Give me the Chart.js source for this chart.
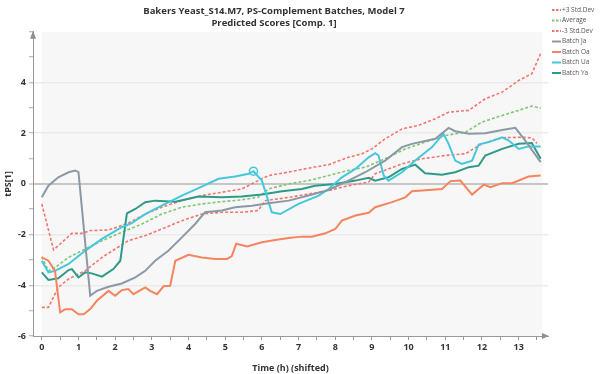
<!DOCTYPE html>
<html><head><meta charset="utf-8">
<script src="https://cdn.jsdelivr.net/npm/chart.js@4/dist/chart.umd.min.js"></script>
<style>html,body{margin:0;padding:0;background:#fff}#wrap{width:602px;height:374px;position:relative}</style>
</head><body><div id="wrap"><canvas id="c" width="602" height="374"></canvas></div>
<script>
const titleLines = ['Bakers Yeast_S14.M7, PS-Complement Batches, Model 7', 'Predicted Scores [Comp. 1]'];
const xTitle = 'Time (h) (shifted)';
const yTitle = 'tPS[1]';
const seriesNames = ['+3 Std.Dev', 'Average', '-3 Std.Dev', 'Batch Ja', 'Batch Oa', 'Batch Ua', 'Batch Ya'];

const upperT = [0,0.32,0.5,0.82,1.09,1.32,1.82,2.36,2.82,3.27,3.82,4.36,4.91,5.45,5.9,6.18,6.7,7.27,7.82,8.36,8.73,9.0,9.36,9.82,10.27,10.73,11.09,11.64,12.09,12.55,13.0,13.36,13.6];
const upperV = [-0.79,-2.6,-2.37,-1.95,-1.95,-1.84,-1.82,-1.55,-1.19,-0.92,-0.66,-0.46,-0.33,-0.2,0.13,0.33,0.46,0.62,0.76,1.05,1.19,1.38,1.78,2.17,2.31,2.57,2.83,2.9,3.36,3.62,4.08,4.35,5.14];

const avgT = [0,0.18,0.36,0.73,1.18,1.64,2.18,2.73,3.27,3.82,4.36,4.91,5.45,5.9,6.18,6.73,7.27,7.82,8.36,8.82,9.36,9.91,10.45,11.0,11.55,12.0,12.55,13.0,13.36,13.6];
const avgV = [-2.87,-3.43,-3.3,-2.9,-2.57,-2.24,-1.91,-1.58,-1.19,-0.92,-0.79,-0.7,-0.63,-0.53,-0.2,0,0.13,0.33,0.53,0.66,0.99,1.38,1.65,1.91,2.04,2.44,2.7,2.9,3.07,2.99];

const lowerT = [0,0.18,0.45,0.73,1.18,1.64,2.0,2.36,2.82,3.27,3.82,4.36,4.91,5.45,5.9,6.09,6.73,7.27,7.82,8.36,8.91,9.09,9.82,10.36,11.0,11.55,12.0,12.55,13.0,13.36,13.5];
const lowerV = [-4.87,-4.87,-4.08,-3.75,-3.43,-2.9,-2.57,-2.24,-2.04,-1.78,-1.45,-1.19,-1.12,-1.12,-1.05,-0.66,-0.53,-0.4,-0.26,-0.07,0.07,0.4,0.79,0.99,1.12,1.19,1.58,1.82,1.84,1.82,1.6];

const jaT = [0,0.18,0.45,0.73,0.91,1.0,1.32,1.5,1.82,2.18,2.55,2.82,3.09,3.45,3.82,4.18,4.45,4.91,5.27,5.73,6.18,6.73,7.27,7.82,8.36,8.82,9.36,9.82,10.09,10.73,11.09,11.27,11.64,12.09,12.55,12.91,13.18,13.6];
const jaV = [-0.53,-0.07,0.26,0.46,0.53,0.46,-4.41,-4.22,-4.06,-3.93,-3.69,-3.43,-3.03,-2.64,-2.11,-1.58,-1.12,-1.05,-0.92,-0.86,-0.76,-0.66,-0.46,-0.24,0.13,0.46,0.92,1.45,1.58,1.78,2.21,2.08,1.98,2.0,2.13,2.21,1.71,0.86];

const oaT = [0,0.18,0.36,0.5,0.64,0.82,1.0,1.14,1.32,1.5,1.82,2.0,2.18,2.36,2.5,2.82,2.95,3.14,3.32,3.5,3.64,4.0,4.36,4.73,5.05,5.18,5.3,5.6,6.0,6.36,6.73,7.09,7.36,7.73,8.0,8.18,8.55,8.91,9.09,9.55,9.91,10.09,10.55,10.91,11.14,11.41,11.73,12.05,12.23,12.55,12.82,13.27,13.6];
const oaV = [-2.9,-3.03,-3.43,-5.07,-4.94,-4.94,-5.14,-5.14,-4.94,-4.61,-4.22,-4.41,-4.19,-4.15,-4.35,-4.08,-4.22,-4.35,-4.04,-4.02,-3.03,-2.8,-2.9,-2.96,-2.96,-2.85,-2.36,-2.47,-2.3,-2.21,-2.13,-2.08,-2.08,-1.95,-1.78,-1.45,-1.25,-1.14,-0.92,-0.72,-0.53,-0.29,-0.24,-0.2,0.11,0.13,-0.42,-0.03,-0.13,0.03,0.03,0.29,0.33];

const uaT = [0,0.18,0.36,0.73,1.18,1.64,2.18,2.45,2.82,3.27,3.82,4.36,4.82,5.27,5.64,5.77,6.0,6.27,6.5,7.0,7.55,7.82,8.18,8.55,8.91,9.09,9.18,9.32,9.45,9.82,10.18,10.64,10.95,11.09,11.27,11.45,11.73,11.91,12.18,12.55,12.73,13.0,13.27,13.6];
const uaV = [-3.03,-3.49,-3.43,-3.16,-2.64,-2.17,-1.71,-1.55,-1.19,-0.86,-0.46,-0.11,0.2,0.29,0.4,0.5,0.13,-1.12,-1.19,-0.79,-0.46,-0.2,0.26,0.59,1.05,1.21,1.12,0.33,0.13,0.46,0.92,1.45,1.98,1.58,0.92,0.79,0.92,1.55,1.65,1.84,1.71,1.38,1.48,1.48];

const yaT = [0,0.18,0.45,0.73,0.82,1.0,1.18,1.36,1.64,1.95,2.14,2.32,2.55,2.82,3.09,3.64,4.27,4.91,5.45,6.0,6.55,7.09,7.45,8.0,8.55,8.91,9.09,9.45,9.82,10.18,10.45,10.91,11.27,11.64,11.91,12.09,12.55,13.0,13.36,13.6];
const yaV = [-3.49,-3.79,-3.72,-3.4,-3.36,-3.69,-3.49,-3.53,-3.66,-3.36,-3.03,-1.16,-0.99,-0.72,-0.66,-0.7,-0.5,-0.53,-0.5,-0.42,-0.29,-0.2,-0.07,0,0.13,0.24,0.13,0.26,0.59,0.76,0.42,0.36,0.46,0.66,0.72,1.12,1.38,1.58,1.61,0.99];

const yTickLabels = [-6,-4,-2,0,2,4];
const xTickLabels = [0,1,2,3,4,5,6,7,8,9,10,11,12,13];
const markedIndexUa = 15;

const FONT = "'Open Sans', 'Noto Sans', sans-serif";
const pts = (t, v) => t.map((x, i) => ({x, y: v[i]}));
const dashed = [3, 2];

function limitDs(label, t, v, color) {
  return {label, data: pts(t, v), borderColor: color, backgroundColor: color, borderWidth: 1.6,
    borderDash: dashed, pointRadius: 0, tension: 0, order: 2};
}
function batchDs(label, t, v, color) {
  return {label, data: pts(t, v), borderColor: color, backgroundColor: color, borderWidth: 2,
    pointRadius: 0, tension: 0, order: 1};
}
const uaSet = batchDs(seriesNames[5], uaT, uaV, '#45c8dc');
uaSet.pointRadius = (c) => c.dataIndex === markedIndexUa ? 4 : 0;
uaSet.pointBackgroundColor = 'rgba(255,255,255,0)';
uaSet.pointBorderWidth = 1.5;

const datasets = [
  limitDs(seriesNames[0], upperT, upperV, '#f2766e'),
  limitDs(seriesNames[1], avgT, avgV, '#80c673'),
  limitDs(seriesNames[2], lowerT, lowerV, '#f2766e'),
  batchDs(seriesNames[3], jaT, jaV, '#8b99a6'),
  batchDs(seriesNames[4], oaT, oaV, '#f5845f'),
  uaSet,
  batchDs(seriesNames[6], yaT, yaV, '#2f9a88')
];

const bgPlugin = {
  id: 'bg',
  beforeDraw(chart) {
    const {ctx, chartArea: a, scales: {x}} = chart;
    ctx.save();
    ctx.fillStyle = '#f7f7f7';
    const l = x.getPixelForValue(0), r = x.getPixelForValue(13.65);
    ctx.fillRect(l, a.top, r - l, a.bottom - a.top);
    ctx.restore();
  },
  afterDraw(chart) {
    const {ctx, chartArea: a} = chart;
    ctx.save();
    ctx.fillStyle = '#8f8f8f';
    ctx.beginPath();
    ctx.moveTo(a.right + 1, a.bottom); ctx.lineTo(a.right - 6, a.bottom - 3); ctx.lineTo(a.right - 6, a.bottom + 3); ctx.closePath(); ctx.fill();
    ctx.beginPath();
    ctx.moveTo(a.left, a.top - 1); ctx.lineTo(a.left - 3, a.top + 7); ctx.lineTo(a.left + 3, a.top + 7); ctx.closePath(); ctx.fill();
    // legend
    ctx.font = '6.5px ' + FONT;
    ctx.textBaseline = 'middle';
    chart.data.datasets.forEach((d, i) => {
      const y = 10 + i * 10.5;
      ctx.strokeStyle = d.borderColor;
      ctx.lineWidth = 2;
      ctx.setLineDash(d.borderDash ? [2.5, 1.5] : []);
      ctx.beginPath(); ctx.moveTo(552, y); ctx.lineTo(561, y); ctx.stroke();
      ctx.setLineDash([]);
      ctx.fillStyle = '#555';
      ctx.fillText(d.label, 562, y);
    });
    ctx.restore();
  }
};

const near = (v, list) => list.find(n => Math.abs(n - v) < 1e-6);

new Chart(document.getElementById('c'), {
  type: 'line',
  data: {datasets},
  plugins: [bgPlugin],
  options: {
    responsive: false, animation: false, devicePixelRatio: 1,
    layout: {padding: {right: 54, left: 0, top: 0, bottom: 0}},
    plugins: {
      legend: {display: false}, tooltip: {enabled: false},
      title: {display: true, text: titleLines, color: '#333', font: {family: FONT, size: 9.5, weight: 'bold'},
        padding: {top: 6, bottom: 3}}
    },
    scales: {
      x: {type: 'linear', min: -0.24, max: 13.8,
        afterFit: (s) => { s.height = 38; },
        ticks: {stepSize: 0.5, includeBounds: false, autoSkip: false, maxRotation: 0, padding: 2, color: '#333',
          font: {family: FONT, size: 9, weight: 'bold'},
          callback: (v) => { const n = near(v, xTickLabels); return n === undefined ? '' : String(n); }},
        grid: {drawOnChartArea: false, drawTicks: true, tickLength: 4, tickColor: '#999', tickWidth: 1, color: '#999'},
        border: {color: '#999', width: 1},
        title: {display: true, text: xTitle, color: '#333', font: {family: FONT, size: 9, weight: 'bold'}, padding: {top: 0, bottom: 0}}
      },
      y: {type: 'linear', min: -6, max: 6,
        afterFit: (s) => { s.width = 33; },
        ticks: {stepSize: 1, autoSkip: false, padding: 3, color: '#333',
          font: {family: FONT, size: 9, weight: 'bold'},
          callback: (v) => { const n = near(v, yTickLabels); return n === undefined ? '' : String(n); }},
        grid: {
          color: (c) => { const v = c.tick && c.tick.value; if (v === 0) return '#c6c6c6'; if (v % 2 === 0 && Math.abs(v) < 6) return '#ebebeb'; return 'rgba(0,0,0,0)'; },
          lineWidth: (c) => (c.tick && c.tick.value === 0) ? 2 : 1.5,
          drawTicks: true, tickLength: 4, tickColor: '#aaa', tickWidth: 1},
        border: {color: '#999', width: 1},
        title: {display: true, text: yTitle, color: '#333', font: {family: FONT, size: 9, weight: 'bold'}, padding: {top: 3, bottom: 2}}
      }
    }
  }
});
</script></body></html>
